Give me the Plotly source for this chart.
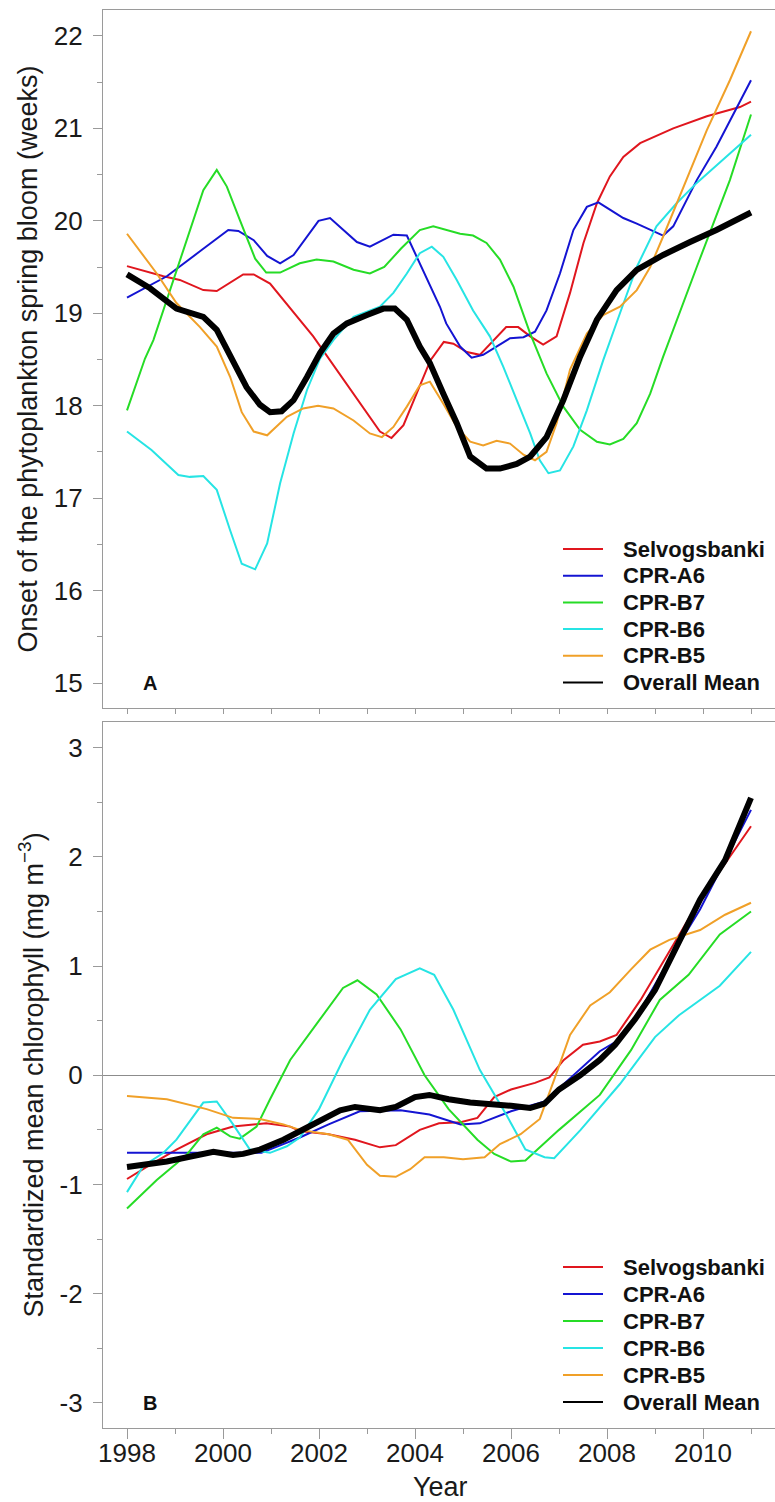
import plotly.graph_objects as go

# ---------------- Panel A: onset of spring bloom (weeks) ----------------
a_sel_x = [1998, 1998.76, 1999.1, 1999.59, 1999.87, 2000.42, 2000.64, 2000.98, 2001.88, 2002.23, 2003.27, 2003.51,
           2003.76, 2004.32, 2004.6, 2004.8, 2005.08, 2005.35, 2005.9, 2006.15, 2006.4, 2006.67, 2006.95, 2007.23,
           2007.51, 2007.79, 2008.06, 2008.34, 2008.69, 2009.38, 2010.08, 2010.77, 2011]
a_sel_y = [19.51, 19.40, 19.36, 19.25, 19.24, 19.42, 19.42, 19.32, 18.75, 18.49, 17.72, 17.65,
           17.79, 18.49, 18.69, 18.67, 18.58, 18.55, 18.85, 18.85, 18.75, 18.66, 18.75, 19.22,
           19.76, 20.19, 20.48, 20.69, 20.84, 21.0, 21.13, 21.23, 21.29]

a_a6_x = [1998, 1998.83, 1999.52, 2000.11, 2000.32, 2000.64, 2000.92, 2001.19, 2001.47, 2001.99, 2002.23, 2002.51,
          2002.79, 2003.06, 2003.55, 2003.83, 2004.1, 2004.31, 2004.52, 2004.65, 2004.94, 2005.18, 2005.42, 2005.98,
          2006.26, 2006.5, 2006.74, 2007.02, 2007.3, 2007.58, 2007.82, 2008.06, 2008.34, 2008.62, 2008.9,
          2009.17, 2009.38, 2009.87, 2010.28, 2011]
a_a6_y = [19.17, 19.40, 19.67, 19.90, 19.89, 19.79, 19.62, 19.54, 19.63, 20.0, 20.03, 19.90,
          19.77, 19.72, 19.85, 19.84, 19.54, 19.30, 19.07, 18.89, 18.64, 18.52, 18.55, 18.73,
          18.74, 18.80, 19.03, 19.43, 19.90, 20.15, 20.20, 20.12, 20.03, 19.97, 19.90,
          19.84, 19.94, 20.44, 20.80, 21.52]

a_b7_x = [1998, 1998.375, 1998.55, 1999.59, 1999.87, 2000.08, 2000.35, 2000.67, 2000.9, 2001.19, 2001.6, 2001.95,
          2002.3, 2002.72, 2003.06, 2003.36, 2003.71, 2004.1, 2004.38, 2004.65, 2004.94, 2005.21, 2005.49, 2005.77,
          2006.05, 2006.4, 2006.74, 2007.09, 2007.44, 2007.79, 2008.06, 2008.34, 2008.62, 2008.9, 2009.17,
          2009.87, 2010.56, 2011]
a_b7_y = [17.95, 18.51, 18.71, 20.33, 20.55, 20.37, 20.01, 19.59, 19.44, 19.44, 19.54, 19.58,
          19.56, 19.47, 19.43, 19.50, 19.70, 19.90, 19.94, 19.90, 19.86, 19.84, 19.76, 19.58,
          19.29, 18.78, 18.35, 17.99, 17.74, 17.61, 17.58, 17.64, 17.81, 18.13, 18.53,
          19.50, 20.44, 21.15]

a_b6_x = [1998, 1998.51, 1999.07, 1999.31, 1999.59, 1999.87, 2000.15, 2000.39, 2000.67, 2000.92, 2001.19, 2001.47,
          2001.75, 2002.02, 2002.3, 2002.72, 2003.27, 2003.55, 2003.83, 2004.1, 2004.35, 2004.59, 2004.87, 2005.21,
          2005.56, 2005.84, 2006.12, 2006.4, 2006.6, 2006.78, 2007.02, 2007.3, 2007.58, 2007.92, 2008.27,
          2008.62, 2009.03, 2009.45, 2009.87, 2010.42, 2011]
a_b6_y = [17.72, 17.52, 17.25, 17.23, 17.24, 17.09, 16.65, 16.29, 16.23, 16.51, 17.16, 17.70,
          18.17, 18.51, 18.71, 18.96, 19.07, 19.22, 19.43, 19.65, 19.72, 19.61, 19.36, 19.03,
          18.75, 18.42, 18.06, 17.70, 17.41, 17.27, 17.30, 17.56, 17.95, 18.49, 19.0,
          19.50, 19.94, 20.19, 20.41, 20.66, 20.93]

a_b5_x = [1998, 1998.62, 1999.03, 1999.52, 1999.87, 2000.15, 2000.39, 2000.64, 2000.92, 2001.33, 2001.67, 2001.98,
          2002.3, 2002.72, 2003.06, 2003.31, 2003.55, 2003.83, 2004.1, 2004.31, 2004.59, 2004.87, 2005.15, 2005.42,
          2005.7, 2005.98, 2006.26, 2006.5, 2006.74, 2006.95, 2007.23, 2007.58, 2007.92, 2008.27, 2008.62,
          2008.9, 2009.17, 2009.59, 2010.08, 2010.56, 2011]
a_b5_y = [19.86, 19.43, 19.11, 18.85, 18.64, 18.31, 17.93, 17.72, 17.68, 17.88, 17.97, 18.0,
          17.97, 17.84, 17.70, 17.66, 17.77, 17.99, 18.22, 18.26, 18.02, 17.77, 17.61, 17.57,
          17.62, 17.59, 17.47, 17.41, 17.50, 17.81, 18.39, 18.78, 18.98, 19.07, 19.25,
          19.50, 19.83, 20.37, 20.98, 21.52, 22.05]

a_mean_x = [1998, 1998.48, 1999.03, 1999.31, 1999.59, 1999.87, 2000.15, 2000.49, 2000.77, 2000.98, 2001.22, 2001.47,
            2001.75, 2002.02, 2002.3, 2002.58, 2003.0, 2003.34, 2003.58, 2003.83, 2004.1, 2004.31, 2004.59, 2004.87,
            2005.15, 2005.49, 2005.77, 2006.12, 2006.4, 2006.74, 2007.09, 2007.44, 2007.79, 2008.2, 2008.62,
            2009.17, 2009.73, 2010.28, 2011]
a_mean_y = [19.42, 19.27, 19.05, 19.0, 18.96, 18.82, 18.53, 18.20, 18.01, 17.93, 17.94, 18.06,
            18.31, 18.57, 18.78, 18.89, 18.98, 19.05, 19.05, 18.93, 18.64, 18.46, 18.13, 17.81,
            17.45, 17.32, 17.32, 17.37, 17.45, 17.66, 18.06, 18.53, 18.93, 19.25, 19.47,
            19.63, 19.77, 19.90, 20.09]

# ---------------- Panel B: standardized mean chlorophyll ----------------
b_sel_x = [1998, 1998.48, 1999.03, 1999.66, 2000.21, 2000.9, 2001.4, 2001.6, 2002.2, 2002.75, 2003.27, 2003.6,
           2004.1, 2004.5, 2004.95, 2005.3, 2005.65, 2006.0, 2006.5, 2006.8, 2007.1, 2007.5, 2007.85, 2008.2,
           2008.7, 2009.2, 2009.94, 2011]
b_sel_y = [-0.95, -0.82, -0.68, -0.54, -0.47, -0.44, -0.47, -0.51, -0.54, -0.59, -0.66, -0.64,
           -0.50, -0.44, -0.43, -0.39, -0.20, -0.13, -0.07, -0.02, 0.14, 0.28, 0.31, 0.37,
           0.69, 1.06, 1.61, 2.28]

b_a6_x = [1998, 2000.0, 2000.8, 2001.6, 2002.2, 2002.85, 2003.7, 2004.3, 2004.95, 2005.35, 2006.0, 2006.7,
          2007.1, 2007.85, 2008.27, 2008.7, 2009.3, 2009.94, 2011]
b_a6_y = [-0.71, -0.71, -0.71, -0.57, -0.45, -0.33, -0.32, -0.36, -0.45, -0.44, -0.33, -0.24,
          -0.08, 0.22, 0.33, 0.60, 1.06, 1.52, 2.43]

b_b7_x = [1998, 1998.62, 1999.24, 1999.59, 1999.87, 2000.15, 2000.35, 2000.7, 2000.98, 2001.4, 2002.0, 2002.5,
          2002.8, 2003.2, 2003.7, 2004.2, 2004.7, 2005.3, 2005.65, 2006.0, 2006.3, 2007.0, 2007.85, 2008.5,
          2009.1, 2009.7, 2010.35, 2011]
b_b7_y = [-1.22, -0.96, -0.73, -0.54, -0.48, -0.56, -0.58, -0.47, -0.22, 0.14, 0.50, 0.80,
          0.87, 0.74, 0.42, 0.0, -0.31, -0.59, -0.72, -0.79, -0.78, -0.50, -0.18, 0.23,
          0.69, 0.92, 1.29, 1.50]

b_b6_x = [1998, 1998.34, 1998.76, 1999.03, 1999.59, 1999.87, 2000.21, 2000.56, 2000.98, 2001.33, 2001.6, 2002.0,
          2002.5, 2003.06, 2003.6, 2004.1, 2004.4, 2004.8, 2005.35, 2005.9, 2006.3, 2006.7, 2006.9, 2007.45,
          2008.27, 2009.0, 2009.5, 2010.35, 2011]
b_b6_y = [-1.07, -0.83, -0.71, -0.59, -0.25, -0.24, -0.45, -0.68, -0.71, -0.65, -0.57, -0.31,
          0.14, 0.60, 0.88, 0.98, 0.92, 0.60, 0.05, -0.36, -0.68, -0.75, -0.76, -0.50,
          -0.08, 0.35, 0.55, 0.82, 1.13]

b_b5_x = [1998, 1998.83, 1999.66, 2000.21, 2000.77, 2001.26, 2001.6, 2002.2, 2002.6, 2003.0, 2003.27, 2003.6,
          2003.9, 2004.2, 2004.6, 2005.0, 2005.45, 2005.77, 2006.2, 2006.6, 2006.9, 2007.23, 2007.65, 2008.06,
          2008.5, 2008.9, 2009.3, 2009.94, 2010.46, 2011]
b_b5_y = [-0.19, -0.22, -0.31, -0.39, -0.40, -0.45, -0.50, -0.54, -0.59, -0.82, -0.92, -0.93,
          -0.86, -0.75, -0.75, -0.77, -0.75, -0.63, -0.54, -0.40, -0.04, 0.37, 0.64, 0.76,
          0.97, 1.15, 1.24, 1.33, 1.47, 1.58]

b_mean_x = [1998, 1998.83, 1999.8, 2000.21, 2000.42, 2000.77, 2001.26, 2001.6, 2002.0, 2002.44, 2002.75, 2003.27,
            2003.6, 2004.0, 2004.3, 2004.7, 2005.15, 2005.56, 2006.0, 2006.4, 2006.7, 2007.0, 2007.44, 2007.85,
            2008.17, 2008.58, 2009.0, 2009.52, 2009.94, 2010.46, 2011]
b_mean_y = [-0.84, -0.79, -0.70, -0.73, -0.72, -0.68, -0.59, -0.51, -0.41, -0.32, -0.29, -0.32,
            -0.29, -0.20, -0.18, -0.22, -0.25, -0.26, -0.28, -0.30, -0.26, -0.13, 0.0, 0.14,
            0.28, 0.51, 0.78, 1.24, 1.61, 1.97, 2.54]

series_names = ["Selvogsbanki", "CPR-A6", "CPR-B7", "CPR-B6", "CPR-B5", "Overall Mean"]
series_colors = ["#e0161e", "#1414d2", "#26dc26", "#26e4e4", "#f0a028", "#000000"]
series_widths = [2, 2, 2, 2, 2, 6]

# tick labels
a_tickvals = [15, 16, 17, 18, 19, 20, 21, 22]
a_ticktext = ["15", "16", "17", "18", "19", "20", "21", "22"]
b_tickvals = [-3, -2, -1, 0, 1, 2, 3]
b_ticktext = ["-3", "-2", "-1", "0", "1", "2", "3"]
year_tickvals = [1998, 2000, 2002, 2004, 2006, 2008, 2010]
year_ticktext = ["1998", "2000", "2002", "2004", "2006", "2008", "2010"]

panel_a = [(a_sel_x, a_sel_y), (a_a6_x, a_a6_y), (a_b7_x, a_b7_y), (a_b6_x, a_b6_y), (a_b5_x, a_b5_y), (a_mean_x, a_mean_y)]
panel_b = [(b_sel_x, b_sel_y), (b_a6_x, b_a6_y), (b_b7_x, b_b7_y), (b_b6_x, b_b6_y), (b_b5_x, b_b5_y), (b_mean_x, b_mean_y)]

FONT = "Arial, Liberation Sans, sans-serif"
AX = "#9a9a9a"
TXT = "#1a1a1a"

W, H = 775, 1502
ML, MR, MT, MB = 103, 0, 10, 74
PW, PH = W - ML - MR, H - MT - MB


def px_x(px):
    return (px - ML) / PW


def px_y(py):
    return (H - MB - py) / PH


fig = go.Figure()

for (xs, ys), nm, col, w in zip(panel_a, series_names, series_colors, series_widths):
    fig.add_trace(go.Scatter(x=xs, y=ys, mode="lines", line=dict(color=col, width=w),
                             name=nm, showlegend=False, xaxis="x", yaxis="y"))
for (xs, ys), nm, col, w in zip(panel_b, series_names, series_colors, series_widths):
    fig.add_trace(go.Scatter(x=xs, y=ys, mode="lines", line=dict(color=col, width=w),
                             name=nm, showlegend=False, xaxis="x2", yaxis="y2"))

# keys (one per panel): thin sample line + bold label
shapes = []
annotations = []
for top_px, step in ((549, 26.7), (1267, 27.0)):
    for i, (nm, col) in enumerate(zip(series_names, series_colors)):
        yy = px_y(top_px + i * step)
        shapes.append(dict(type="line", xref="paper", yref="paper", x0=px_x(563), x1=px_x(603),
                           y0=yy, y1=yy, line=dict(color=col, width=2)))
        annotations.append(dict(x=px_x(621), y=yy, xref="paper", yref="paper", text="<b>%s</b>" % nm,
                                showarrow=False, xanchor="left", yanchor="middle",
                                font=dict(size=22, color="#111111", family=FONT)))

annotations += [
    dict(x=1998.48, y=15.0, xref="x", yref="y", text="<b>A</b>", showarrow=False,
         font=dict(size=20, color="#111111", family=FONT)),
    dict(x=1998.48, y=-3.0, xref="x2", yref="y2", text="<b>B</b>", showarrow=False,
         font=dict(size=20, color="#111111", family=FONT)),
    dict(x=px_x(440), y=px_y(1501), xref="paper", yref="paper", text="Year", showarrow=False,
         xanchor="center", yanchor="bottom", height=24, valign="middle",
         font=dict(size=27, color=TXT, family=FONT)),
]

common_x = dict(range=[1997.5, 2011.5], showgrid=False, zeroline=False, showline=True, linecolor=AX,
                linewidth=1.3, mirror=True, ticks="outside", tickcolor=AX)
common_y = dict(showgrid=False, showline=True, linecolor=AX, linewidth=1.3, ticks="outside", tickcolor=AX,
                ticklen=9, tickfont=dict(size=26, color=TXT, family=FONT), ticklabelstandoff=5)

fig.update_layout(
    width=W, height=H,
    margin=dict(l=ML, r=MR, t=MT, b=MB),
    paper_bgcolor="white", plot_bgcolor="white",
    font=dict(family=FONT, color=TXT),
    showlegend=False,
    xaxis=dict(**common_x, anchor="y", domain=[0, 1], tick0=1998, dtick=1, ticklen=5, showticklabels=False),
    yaxis=dict(**common_y, anchor="x", domain=[px_y(708), 1], range=[14.73, 22.28],
               tickvals=a_tickvals, ticktext=a_ticktext,
               minor=dict(dtick=0.5, ticklen=5, tickcolor=AX, ticks="outside"),
               title=dict(text="Onset of the phytoplankton spring bloom (weeks)",
                          font=dict(size=27, color=TXT, family=FONT), standoff=8)),
    xaxis2=dict(**common_x, anchor="y2", domain=[0, 1], ticklen=10,
                tickvals=year_tickvals, ticktext=year_ticktext,
                minor=dict(dtick=1, tick0=1998, ticklen=5, tickcolor=AX, ticks="outside"),
                tickfont=dict(size=26, color=TXT, family=FONT), ticklabelstandoff=-8),
    yaxis2=dict(**common_y, anchor="x2", domain=[0, px_y(722)], range=[-3.23, 3.235],
                tickvals=b_tickvals, ticktext=b_ticktext,
                zeroline=True, zerolinecolor="#8c8c8c", zerolinewidth=1.2,
                minor=dict(dtick=0.5, ticklen=5, tickcolor=AX, ticks="outside"),
                title=dict(text="Standardized mean chlorophyll (mg m<sup>−3</sup>)",
                           font=dict(size=27, color=TXT, family=FONT), standoff=8)),
    shapes=shapes,
    annotations=annotations,
)

fig.write_html("out.html", config={"displayModeBar": False},
               post_script="document.body.style.margin='0';document.body.style.padding='0';"
                           "document.documentElement.style.overflow='hidden';")
